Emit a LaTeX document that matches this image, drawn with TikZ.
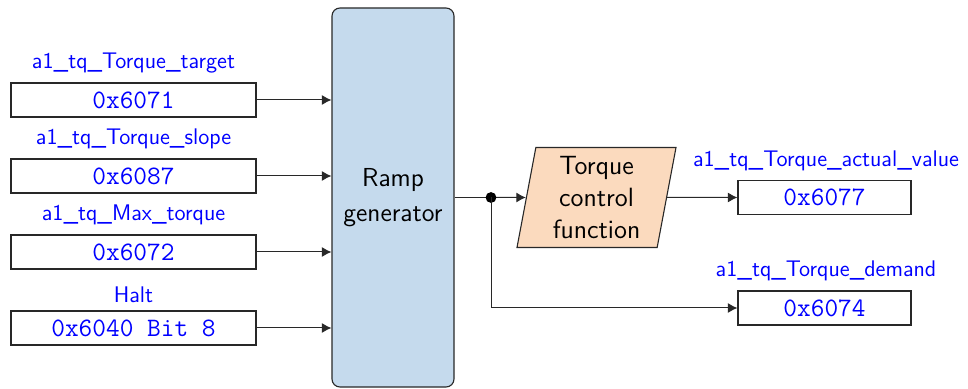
\documentclass[tikz,border=0pt]{standalone}
\usetikzlibrary{arrows.meta,shapes.geometric}
\definecolor{rampblue}{RGB}{197,218,237}
\definecolor{peach}{RGB}{251,218,190}
\definecolor{linegray}{RGB}{40,40,40}
\begin{document}
\begin{tikzpicture}[x=0.5pt,y=-0.5pt,
  reg/.style={draw=linegray, line width=0.55pt, fill=white, inner sep=0pt,
    minimum height=17pt, text=blue, font=\ttfamily\fontsize{13.3}{15}\selectfont},
  regL/.style={reg, minimum width=122.5pt},
  regR/.style={reg, minimum width=86.5pt},
  lbl/.style={text=blue, inner sep=0pt, font=\sffamily\fontsize{11.3}{13}\selectfont},
  conn/.style={draw=linegray, line width=0.5pt, -{Latex[length=4.8pt,width=5pt]}},
  plain/.style={draw=linegray, line width=0.5pt}
]
\useasboundingbox (0,0) rectangle (968,389);

% left registers
\node[regL] (r1) at (133.5,100) {0x6071};
\node[regL] (r2) at (133.5,176) {0x6087};
\node[regL] (r3) at (133.5,252) {0x6072};
\node[regL] (r4) at (133.5,328) {0x6040 Bit 8};
\node[lbl] (l1) at (133.5,63) {a1\_tq\_Torque\_target};
\node[lbl] (l2) at (133.5,139) {a1\_tq\_Torque\_slope};
\node[lbl] (l3) at (133.5,215) {a1\_tq\_Max\_torque};
\node[lbl] (l4) at (133.5,295) {Halt};

% ramp generator
\node[draw=linegray, line width=0.55pt, fill=rampblue, rounded corners=4pt,
  minimum width=61pt, minimum height=189.5pt, inner sep=0pt,
  align=center, font=\sffamily\fontsize{13}{17.5}\selectfont] (ramp) at (393,197.5) {Ramp\\generator};

\foreach \i in {1,...,4} {
  \draw[conn] (r\i.east) -- (r\i.east -| ramp.west);
}

% torque control function
\node[trapezium, trapezium left angle=77, trapezium right angle=103,
  trapezium stretches body, draw=linegray, line width=0.55pt, fill=peach,
  minimum width=79.5pt, minimum height=50pt, inner sep=0pt,
  align=center, font=\sffamily\fontsize{13.2}{15.8}\selectfont] (tcf) at (596.5,197.5) {Torque\\control\\function};

% right registers
\node[regR] (o1) at (824.5,197.5) {0x6077};
\node[regR] (o2) at (824.5,308) {0x6074};
\node[lbl] (lo1) at (826,161) {a1\_tq\_Torque\_actual\_value};
\node[lbl] (lo2) at (826,271) {a1\_tq\_Torque\_demand};

\coordinate (split) at (491,197.5);
\draw[plain] (ramp.east |- split) -- (split);
\draw[conn] (split) -- (tcf.west);
\fill (split) circle (2.7pt);
\draw[conn] (tcf.east) -- (o1.west);
\draw[conn] (split) |- (o2.west);
\end{tikzpicture}
\end{document}
